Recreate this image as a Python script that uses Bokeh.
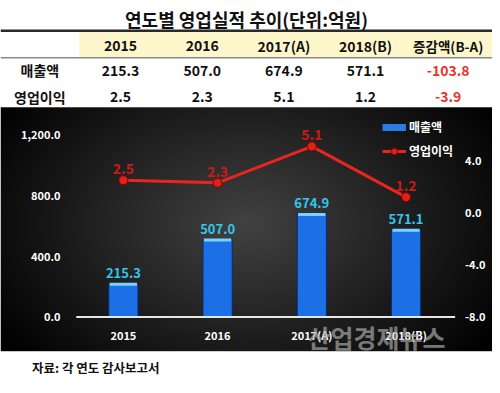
import numpy as np
from bokeh.plotting import figure
from bokeh.models import Range1d, Legend, LegendItem
from bokeh.core.properties import value
from bokeh.embed import file_html
from bokeh.resources import INLINE

# ---------------- data ----------------
title_text = "연도별 영업실적 추이(단위:억원)"
years = ["2015", "2016", "2017(A)", "2018(B)"]
diff_header = "증감액(B-A)"
series_names = ["매출액", "영업이익"]
sales = [215.3, 507.0, 674.9, 571.1]
profit = [2.5, 2.3, 5.1, 1.2]
left_ticks = [0, 400, 800, 1200]
right_ticks = [-8, -4, 0, 4]
left_max = 1200
right_min, right_max = -8, 6
source_note = "자료: 각 연도 감사보고서"
watermark = "산업경제뉴스"

FONT = "Noto Sans CJK KR"
W, H = 492, 385          # figure size
RW, RH = 500, 393        # layout design space

def fmt(v):
    return f"{v:.1f}"

sales_diff = round(sales[-1] - sales[-2], 1)
profit_diff = round(profit[-1] - profit[-2], 1)

# ---------------- layout geometry (design px, y measured downward) ----------------
plot_left, plot_right = 77, 460
plot_top, plot_bottom = 137, 323
chart_top, chart_bottom = 109, 358

k_s = (plot_bottom - plot_top) / left_max
k_p = (plot_bottom - plot_top) / (right_max - right_min)
cw = (plot_right - plot_left) / len(years)
cat_start = -0.5 - plot_left / cw

p = figure(width=W, height=H, x_range=Range1d(0, RW), y_range=Range1d(-RH, 0),
           toolbar_location=None, output_backend="svg", min_border=0,
           x_axis_location=None, y_axis_location=None)
p.grid.visible = False
p.outline_line_color = None
p.background_fill_color = "white"
p.border_fill_color = "white"
p.extra_y_ranges = {
    "sales": Range1d((plot_bottom - RH) / k_s, plot_bottom / k_s),
    "profit": Range1d(right_min + (plot_bottom - RH) / k_p, right_min + plot_bottom / k_p),
}
p.extra_x_ranges = {"cat": Range1d(cat_start, cat_start + RW / cw)}

# ---------------- table ----------------
txt = dict(text_font=value(FONT), text_font_style="bold", text_baseline="middle",
           text_align="center")
p.quad(left=[80], right=[RW], top=[-32], bottom=[-58], fill_color="#FFF7CC", line_color=None)
p.segment(x0=[0], y0=[-31], x1=[RW], y1=[-31], line_color="#2a2a2a", line_width=2.5)
p.segment(x0=[0], y0=[-58.5], x1=[RW], y1=[-58.5], line_color="#8a8a8a", line_width=1.5)

p.text(x=[250], y=[-19], text=[title_text], text_font_size="18px", text_color="#111111", **txt)
col_x = [122, 205, 288, 371, 455]
p.text(x=col_x[:4], y=[-46] * 4, text=years, text_font_size="14px", text_color="#111111", **txt)
p.text(x=[col_x[4]], y=[-46], text=[diff_header], text_font_size="13.5px",
       text_color="#111111", **txt)
p.text(x=[40, 40], y=[-71, -98], text=series_names, text_font_size="14px",
       text_color="#111111", **txt)
p.text(x=col_x[:4], y=[-71] * 4, text=[fmt(v) for v in sales], text_font_size="14px",
       text_color="#111111", **txt)
p.text(x=col_x[:4], y=[-98] * 4, text=[fmt(v) for v in profit], text_font_size="14px",
       text_color="#111111", **txt)
p.text(x=[col_x[4], col_x[4]], y=[-71, -98], text=[fmt(sales_diff), fmt(profit_diff)],
       text_font_size="14px", text_color="#E8342C", **txt)

# ---------------- chart background (radial shading) ----------------
ny, nx = 125, 250
yy, xx = np.mgrid[0:ny, 0:nx]
d = np.sqrt(((xx / (nx - 1) - 0.5) / 0.62) ** 2 + ((yy / (ny - 1) - 0.52) / 0.85) ** 2)
g = np.clip(66 * (1 - d) ** 1.0, 0, 255).astype(np.uint8)
img = np.empty((ny, nx), dtype=np.uint32)
view = img.view(dtype=np.uint8).reshape((ny, nx, 4))
view[..., 0] = g
view[..., 1] = g
view[..., 2] = g
view[..., 3] = 255
p.image_rgba(image=[img], x=0, y=-chart_bottom, dw=RW, dh=chart_bottom - chart_top)

# ---------------- axes (tick labels through the scales) ----------------
ax_txt = dict(text_font=value(FONT), text_font_style="bold", text_baseline="middle",
              text_font_size="11px", text_color="white")
p.text(x=[61] * len(left_ticks), y=left_ticks, y_range_name="sales",
       text=[f"{v:,.1f}" for v in left_ticks], text_align="right", **ax_txt)
p.text(x=[472] * len(right_ticks), y=right_ticks, y_range_name="profit",
       text=[f"{v:.1f}" for v in right_ticks], text_align="left", **ax_txt)
idx = list(range(len(years)))
p.text(x=idx, y=[-341.5] * len(years), x_range_name="cat", text=years,
       text_align="center", **ax_txt)

# ---------------- bars ----------------
p.vbar(x=idx, top=sales, bottom=0, width=0.31, x_range_name="cat", y_range_name="sales",
       fill_color="#1D6FE6", line_color="#0A2A6C", line_width=1)
p.rect(x=idx, y=sales, width=0.29, height=3, height_units="screen",
       x_range_name="cat", y_range_name="sales", fill_color="#7CD2FF", line_color=None)
p.segment(x0=[plot_left], x1=[plot_right + 2], y0=[0], y1=[0], y_range_name="sales",
          line_color="#e6e6e6", line_width=2)
p.text(x=idx, y=sales, text=[fmt(v) for v in sales], x_range_name="cat",
       y_range_name="sales", y_offset=-6, text_baseline="bottom", text_align="center",
       text_color="#34C6EC", text_font=value(FONT), text_font_style="bold",
       text_font_size="13px")

# ---------------- line ----------------
line_r = p.line(x=idx, y=profit, x_range_name="cat", y_range_name="profit",
                line_color="#E8251E", line_width=3)
dot_r = p.scatter(x=idx, y=profit, x_range_name="cat", y_range_name="profit", size=9,
                  fill_color="#E0201A", line_color="#8B0000")
p.text(x=idx, y=profit, text=[fmt(v) for v in profit], x_range_name="cat",
       y_range_name="profit", y_offset=-6, text_baseline="bottom", text_align="center",
       text_color="#C81B17", text_font=value(FONT), text_font_style="bold",
       text_font_size="14px")

# ---------------- watermark ----------------
p.text(x=[312], y=[-343], text=[watermark], text_align="left", text_baseline="middle",
       text_font=value(FONT), text_font_style="bold", text_font_size="25px",
       text_color="#a8a8a8", text_alpha=0.7)

# ---------------- legend ----------------
bar_key = p.line(x=[np.nan], y=[np.nan], line_color="#2A7AE8", line_width=7)
legend = Legend(items=[LegendItem(label=series_names[0], renderers=[bar_key]),
                       LegendItem(label=series_names[1], renderers=[line_r, dot_r])],
                location=(382, 226), orientation="vertical",
                glyph_width=24, glyph_height=16, label_height=16, spacing=7,
                padding=0, margin=0, label_standoff=3,
                background_fill_alpha=0, border_line_alpha=0,
                label_text_color="white", label_text_font=FONT,
                label_text_font_style="bold", label_text_font_size="12px")
p.add_layout(legend)

# ---------------- footer ----------------
p.text(x=[32], y=[-375], text=[source_note], text_font=value(FONT), text_font_style="bold",
       text_font_size="12.5px", text_baseline="middle", text_align="left",
       text_color="#111111")

open("out.html", "w").write(file_html(p, INLINE))
